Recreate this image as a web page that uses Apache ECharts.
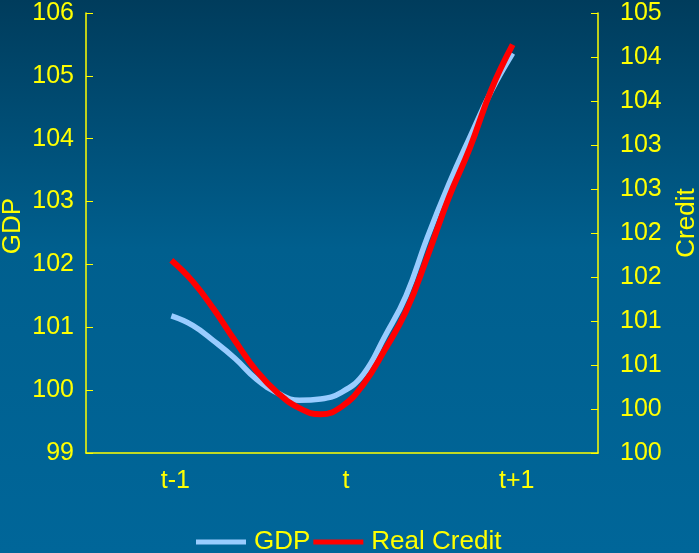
<!DOCTYPE html>
<html>
<head>
<meta charset="utf-8">
<script src="https://cdn.jsdelivr.net/npm/echarts@6/dist/echarts.min.js"></script>
<style>
  html, body { margin: 0; padding: 0; }
  #chart { width: 699px; height: 553px; }
</style>
</head>
<body>
<div id="chart"></div>
<script>
// Period labels on the horizontal axis
const categories = ['t-1', 't', 't+1'];

// Position of each observation, in periods relative to t
const periodOffsets = [-1, -0.875, -0.75, -0.625, -0.5, -0.375, -0.25, -0.125, 0,
                       0.125, 0.25, 0.375, 0.5, 0.625, 0.75, 0.875, 1];

// GDP index (left axis)
const gdp = [101.18, 101.03, 100.78, 100.50, 100.17, 99.95, 99.84, 99.86, 99.97,
             100.25, 100.85, 101.50, 102.43, 103.27, 104.03, 104.76, 105.36];

// Real credit index (right axis)
const realCredit = [101.69, 101.45, 101.13, 100.77, 100.43, 100.18, 100.01, 99.94, 100.03,
                    100.28, 100.67, 101.11, 101.73, 102.40, 102.97, 103.63, 104.14];

const yellow = '#FFFF00';
const font = '"Liberation Sans", Arial, sans-serif';

const pair = (vals) => vals.map((v, i) => [periodOffsets[i], v]);

const chart = echarts.init(document.getElementById('chart'), null, { renderer: 'canvas' });

chart.setOption({
  backgroundColor: {
    type: 'linear', x: 0, y: 0, x2: 0, y2: 1,
    colorStops: [
      { offset: 0, color: '#003c5c' },
      { offset: 0.45, color: '#005f8e' },
      { offset: 1, color: '#006699' }
    ]
  },
  animation: false,
  grid: { left: 86, right: 101, top: 13, bottom: 100, containLabel: false, outerBoundsMode: 'none' },
  legend: {
    data: [
      { name: 'GDP', icon: 'rect' },
      { name: 'Real Credit', icon: 'rect' }
    ],
    left: 191,
    top: 524,
    itemWidth: 50,
    itemHeight: 5,
    itemGap: 3,
    textStyle: { color: yellow, fontSize: 26, fontFamily: font, lineHeight: 26, padding: [0, 0, 0, 3] }
  },
  xAxis: [
    {
      type: 'category',
      data: categories,
      boundaryGap: true,
      axisLine: { onZero: false, lineStyle: { color: yellow, width: 1.5 } },
      axisTick: { inside: true, length: 6, lineStyle: { color: yellow } },
      axisLabel: { color: yellow, fontSize: 25, fontFamily: font, margin: 16, padding: [0, 0, 0, 8] },
      splitLine: { show: false }
    },
    {
      type: 'value',
      min: -1.5,
      max: 1.5,
      show: false
    }
  ],
  yAxis: [
    {
      type: 'value',
      position: 'left',
      min: 99,
      max: 106,
      interval: 1,
      name: 'GDP',
      nameLocation: 'middle',
      nameRotate: 90,
      nameGap: 60,
      nameMoveOverlap: false,
      nameTextStyle: { color: yellow, fontSize: 26, fontFamily: font, padding: [0, 0, 0, 14] },
      axisLine: { show: true, onZero: false, lineStyle: { color: yellow, width: 1.5 } },
      axisTick: { show: true, inside: true, length: 7, lineStyle: { color: yellow } },
      axisLabel: { color: yellow, fontSize: 25, fontFamily: font, margin: 12 },
      splitLine: { show: false }
    },
    {
      type: 'value',
      position: 'right',
      min: 99.5,
      max: 104.5,
      interval: 0.5,
      name: 'Credit',
      nameLocation: 'middle',
      nameRotate: 90,
      nameGap: 76,
      nameMoveOverlap: false,
      nameTextStyle: { color: yellow, fontSize: 26, fontFamily: font, padding: [0, 0, 0, 20] },
      axisLine: { show: true, onZero: false, lineStyle: { color: yellow, width: 1.5 } },
      axisTick: { show: true, inside: true, length: 7, lineStyle: { color: yellow } },
      axisLabel: {
        color: yellow, fontSize: 25, fontFamily: font, margin: 22,
        formatter: (v) => String(Math.round(v + 1e-9))
      },
      splitLine: { show: false }
    }
  ],
  series: [
    {
      name: 'GDP',
      type: 'line',
      xAxisIndex: 1,
      yAxisIndex: 0,
      data: pair(gdp),
      smooth: 0.45,
      showSymbol: false,
      symbol: 'none',
      itemStyle: { color: '#99CCFF' },
      lineStyle: { color: '#99CCFF', width: 5.5 }
    },
    {
      name: 'Real Credit',
      type: 'line',
      xAxisIndex: 1,
      yAxisIndex: 1,
      data: pair(realCredit),
      smooth: 0.45,
      showSymbol: false,
      symbol: 'none',
      itemStyle: { color: '#FF0000' },
      lineStyle: { color: '#FF0000', width: 6 }
    }
  ]
});
</script>
</body>
</html>
